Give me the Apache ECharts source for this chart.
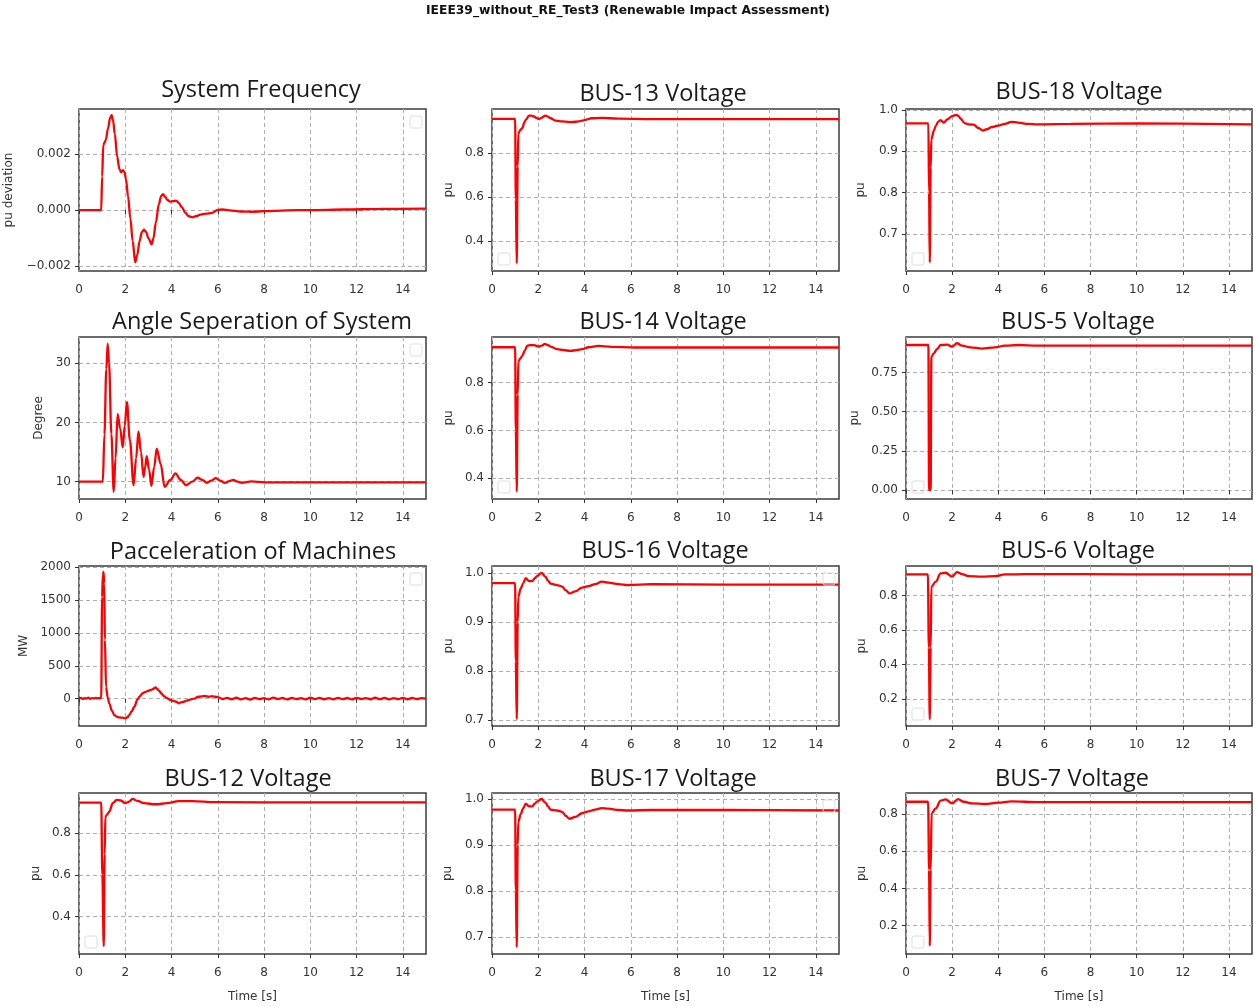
<!DOCTYPE html>
<html>
<head>
<meta charset="utf-8">
<script src="https://cdn.jsdelivr.net/npm/echarts@6/dist/echarts.min.js"></script>
<style>
html,body{margin:0;padding:0;background:#fff;}
#chart{width:1255px;height:1006px;}
</style>
</head>
<body>
<div id="chart"></div>
<script>
// ---------------- DATA ----------------
const mainTitle = 'IEEE39_without_RE_Test3 (Renewable Impact Assessment)';
const xTicks = [0, 2, 4, 6, 8, 10, 12, 14];

// System Frequency (pu deviation)
const freqT = [0, 0.96, 1.0, 1.05, 1.1, 1.16, 1.25, 1.35, 1.41, 1.47, 1.55, 1.65, 1.75, 1.82, 1.9, 1.97, 2.03, 2.12, 2.22, 2.32, 2.43, 2.52, 2.62, 2.72, 2.81, 2.9, 3.0, 3.14, 3.22, 3.32, 3.45, 3.55, 3.63, 3.72, 3.82, 3.95, 4.08, 4.2, 4.32, 4.45, 4.6, 4.75, 4.9, 5.05, 5.25, 5.5, 5.75, 6.0, 6.2, 6.5, 7.0, 7.5, 8.0, 9.0, 10, 11.5, 13, 15];
const freqV = [0, 0, 0.0012, 0.00232, 0.0024, 0.0025, 0.0029, 0.0033, 0.00338, 0.0032, 0.0027, 0.0019, 0.00145, 0.00135, 0.00142, 0.00135, 0.0011, 0.0005, -0.0003, -0.0011, -0.00186, -0.0016, -0.0011, -0.00078, -0.0007, -0.00078, -0.001, -0.00122, -0.001, -0.00045, 0.0002, 0.0005, 0.00057, 0.00048, 0.00036, 0.0003, 0.00032, 0.00034, 0.00025, 0.0001, -0.0001, -0.00022, -0.00026, -0.00022, -0.00016, -0.00013, -0.0001, 0.00001, 0.00002, -0.00001, -0.00005, -0.00006, -0.00004, -0.00001, 0, 0.00002, 0.00004, 0.00005];
const freqRange = [-0.00217, 0.0036];
const freqTicks = [-0.002, 0, 0.002];

// Angle Separation (Degree)
const angT = [0, 1.03, 1.1, 1.18, 1.24, 1.3, 1.4, 1.5, 1.58, 1.67, 1.78, 1.89, 1.98, 2.07, 2.2, 2.36, 2.47, 2.57, 2.68, 2.79, 2.86, 2.93, 3.03, 3.13, 3.25, 3.36, 3.53, 3.7, 3.95, 4.17, 4.4, 4.63, 4.9, 5.13, 5.33, 5.53, 5.72, 5.91, 6.1, 6.31, 6.5, 6.67, 6.85, 7.03, 7.46, 8.0, 10, 15];
const angV = [10, 10, 18, 29, 33.3, 30, 18, 8.3, 14, 21.4, 19, 15.8, 19.5, 23.5, 17, 9.4, 14, 18.5, 15, 10.8, 12.5, 14.3, 12, 9.3, 12.5, 15.6, 13, 9.15, 10.3, 11.4, 10.3, 9.4, 10.0, 10.7, 10.3, 9.8, 10.2, 10.6, 10.2, 9.8, 10.1, 10.3, 10.0, 9.8, 10.05, 9.9, 9.9, 9.9];
const angRange = [7.08, 34.44];
const angTicks = [10, 20, 30];

// Pacceleration of Machines (MW)
const paccT = [0, 0.08, 0.16, 0.24, 0.32, 0.4, 0.48, 0.56, 0.64, 0.72, 0.8, 0.88, 0.96, 1.0, 1.03, 1.06, 1.09, 1.12, 1.17, 1.24, 1.31, 1.42, 1.53, 1.64, 1.74, 1.87, 2.0, 2.1, 2.17, 2.28, 2.39, 2.53, 2.64, 2.74, 2.85, 2.96, 3.07, 3.17, 3.25, 3.31, 3.38, 3.46, 3.56, 3.67, 3.8, 3.96, 4.1, 4.2, 4.31, 4.4, 4.53, 4.64, 4.74, 4.88, 5.03, 5.1, 5.17, 5.3, 5.46, 5.6, 5.75, 5.89, 6.0, 6.1,
  6.2, 6.4, 6.6, 6.8, 7.0, 7.2, 7.4, 7.6, 7.8, 8.0, 8.2, 8.4, 8.6, 8.8, 9.0, 9.2, 9.4, 9.6, 9.8, 10.0, 10.2, 10.4, 10.6, 10.8, 11.0, 11.2, 11.4, 11.6, 11.8, 12.0, 12.2, 12.4, 12.6, 12.8, 13.0, 13.2, 13.4, 13.6, 13.8, 14.0, 14.2, 14.4, 14.6, 14.8, 15.0];
const paccV = [5, 12, -3, 10, 2, 15, 0, 8, 4, 12, 6, 10, 8, 1550, 1880, 1930, 1750, 900, 180, 20, -70, -180, -250, -275, -284, -288, -300, -280, -249, -190, -122, -10, 40, 81, 100, 117, 130, 142, 160, 173, 150, 122, 80, 41, 10, -20, -35, -46, -70, -55, -46, -30, -20, -5, 5, 25, 30, 35, 41, 30, 38, 30, 25, 10,
  -5, 12, -8, 15, -10, 8, -12, 14, -6, 10, -9, 16, -4, 11, -10, 13, -7, 9, -11, 15, -5, 12, -8, 10, -9, 14, -6, 11, -10, 13, -4, 9, -8, 15, -7, 12, -9, 10, -6, 14, -8, 11, -5, 9, 2];
const paccRange = [-415, 2020];
const paccTicks = [0, 500, 1000, 1500, 2000];

// BUS-13
const b13T = [0, 1.0, 1.03, 1.07, 1.11, 1.14, 1.22, 1.31, 1.4, 1.46, 1.6, 1.7, 1.81, 1.93, 2.03, 2.14, 2.31, 2.42, 2.53, 2.74, 2.95, 3.17, 3.39, 3.6, 3.74, 3.9, 4.03, 4.31, 4.74, 5.46, 6.89, 10, 15];
const b13V = [0.956, 0.956, 0.59, 0.3, 0.74, 0.89, 0.905, 0.914, 0.94, 0.952, 0.971, 0.971, 0.967, 0.96, 0.955, 0.961, 0.971, 0.966, 0.959, 0.948, 0.945, 0.944, 0.941, 0.943, 0.945, 0.948, 0.952, 0.959, 0.961, 0.957, 0.955, 0.955, 0.955];
const b13Range = [0.265, 1.001];
const b13Ticks = [0.4, 0.6, 0.8];

// BUS-18
const b18T = [0, 0.97, 1.0, 1.03, 1.07, 1.1, 1.21, 1.3, 1.39, 1.5, 1.64, 1.79, 2.0, 2.19, 2.28, 2.36, 2.54, 2.71, 2.93, 3.14, 3.33, 3.5, 3.71, 4.0, 4.29, 4.57, 4.86, 5.29, 5.71, 7.14, 10, 15];
const b18V = [0.967, 0.967, 0.8, 0.631, 0.86, 0.929, 0.95, 0.962, 0.971, 0.975, 0.969, 0.977, 0.985, 0.988, 0.985, 0.979, 0.968, 0.965, 0.964, 0.956, 0.95, 0.953, 0.958, 0.962, 0.966, 0.971, 0.969, 0.966, 0.965, 0.966, 0.967, 0.965];
const b18Range = [0.61, 1.002];
const b18Ticks = [0.7, 0.8, 0.9, 1.0];

// BUS-14
const b14T = [0, 1.0, 1.03, 1.07, 1.11, 1.14, 1.22, 1.31, 1.42, 1.53, 1.65, 1.81, 2.03, 2.15, 2.29, 2.4, 2.53, 2.81, 3.1, 3.39, 3.65, 3.89, 4.17, 4.6, 5.17, 6.17, 10, 15];
const b14V = [0.948, 0.948, 0.6, 0.344, 0.75, 0.888, 0.9, 0.912, 0.935, 0.955, 0.957, 0.957, 0.951, 0.955, 0.962, 0.958, 0.951, 0.94, 0.936, 0.933, 0.936, 0.94, 0.948, 0.954, 0.95, 0.947, 0.947, 0.947];
const b14Range = [0.313, 0.991];
const b14Ticks = [0.4, 0.6, 0.8];

// BUS-5
const b5T = [0, 0.97, 1.0, 1.07, 1.1, 1.21, 1.35, 1.5, 1.79, 2.0, 2.21, 2.43, 2.79, 3.29, 3.86, 4.29, 4.86, 5.71, 10, 15];
const b5V = [0.925, 0.925, 0.0, 0.0, 0.851, 0.872, 0.9, 0.925, 0.927, 0.914, 0.936, 0.921, 0.91, 0.902, 0.91, 0.921, 0.925, 0.921, 0.921, 0.921];
const b5Range = [-0.057, 0.976];
const b5Ticks = [0, 0.25, 0.5, 0.75];

// BUS-16
const b16T = [0, 1.0, 1.03, 1.07, 1.11, 1.14, 1.24, 1.35, 1.46, 1.6, 1.74, 1.85, 1.96, 2.14, 2.31, 2.42, 2.53, 2.81, 3.03, 3.2, 3.34, 3.6, 3.89, 4.17, 4.46, 4.74, 5.03, 5.46, 5.89, 6.89, 10, 15];
const b16V = [0.98, 0.98, 0.82, 0.702, 0.9, 0.952, 0.969, 0.98, 0.99, 0.984, 0.984, 0.99, 0.995, 1.001, 0.993, 0.985, 0.979, 0.976, 0.973, 0.965, 0.959, 0.963, 0.971, 0.974, 0.978, 0.983, 0.981, 0.978, 0.976, 0.978, 0.977, 0.977];
const b16Range = [0.688, 1.015];
const b16Ticks = [0.7, 0.8, 0.9, 1.0];

// BUS-6
const b6T = [0, 0.95, 0.99, 1.03, 1.07, 1.1, 1.29, 1.5, 1.71, 2.0, 2.21, 2.43, 2.71, 3.29, 3.86, 4.29, 5.14, 10, 15];
const b6V = [0.923, 0.923, 0.5, 0.084, 0.5, 0.852, 0.881, 0.929, 0.933, 0.91, 0.937, 0.925, 0.913, 0.91, 0.913, 0.923, 0.925, 0.924, 0.924];
const b6Range = [0.045, 0.972];
const b6Ticks = [0.2, 0.4, 0.6, 0.8];

// BUS-12
const b12T = [0, 0.96, 1.01, 1.07, 1.11, 1.14, 1.22, 1.31, 1.46, 1.63, 1.81, 2.0, 2.17, 2.31, 2.53, 2.81, 3.31, 3.81, 4.31, 4.89, 5.89, 10, 15];
const b12V = [0.947, 0.947, 0.6, 0.259, 0.7, 0.88, 0.89, 0.904, 0.944, 0.96, 0.957, 0.944, 0.952, 0.965, 0.955, 0.944, 0.939, 0.944, 0.954, 0.954, 0.949, 0.948, 0.948];
const b12Range = [0.221, 0.993];
const b12Ticks = [0.4, 0.6, 0.8];

// BUS-17
const b17T = [0, 1.0, 1.03, 1.07, 1.11, 1.14, 1.24, 1.35, 1.46, 1.6, 1.74, 1.85, 1.96, 2.14, 2.31, 2.42, 2.53, 2.81, 3.03, 3.2, 3.34, 3.6, 3.89, 4.17, 4.46, 4.74, 5.03, 5.46, 5.89, 6.89, 10, 15];
const b17V = [0.977, 0.977, 0.8, 0.678, 0.9, 0.95, 0.967, 0.98, 0.99, 0.984, 0.984, 0.99, 0.995, 1.0, 0.992, 0.984, 0.977, 0.975, 0.972, 0.963, 0.957, 0.961, 0.969, 0.973, 0.977, 0.98, 0.979, 0.976, 0.975, 0.976, 0.976, 0.975];
const b17Range = [0.663, 1.013];
const b17Ticks = [0.7, 0.8, 0.9, 1.0];

// BUS-7
const b7T = [0, 0.96, 1.0, 1.03, 1.07, 1.11, 1.29, 1.5, 1.71, 2.0, 2.26, 2.5, 2.86, 3.43, 4.0, 4.57, 5.71, 10, 15];
const b7V = [0.866, 0.866, 0.5, 0.092, 0.5, 0.804, 0.83, 0.872, 0.879, 0.857, 0.88, 0.866, 0.857, 0.854, 0.861, 0.868, 0.864, 0.864, 0.864];
const b7Range = [0.048, 0.913];
const b7Ticks = [0.2, 0.4, 0.6, 0.8];

// ---------------- LAYOUT ----------------
const colLeft = [79, 492, 906];
const colWidth = [347, 347, 346];
const rowTop = [109, 337, 566, 793];
const rowHeight = [162, 162, 160, 161];

const panels = [
  {title: 'System Frequency', t: freqT, v: freqV, range: freqRange, ticks: freqTicks, dec: 3, yname: 'pu deviation', gap: 64, r: 0, c: 0, tx: 261, ty: 90, leg: 'tr'},
  {title: 'BUS-13 Voltage', t: b13T, v: b13V, range: b13Range, ticks: b13Ticks, dec: 1, yname: 'pu', gap: 37, r: 0, c: 1, tx: 663, ty: 94, leg: 'bl'},
  {title: 'BUS-18 Voltage', t: b18T, v: b18V, range: b18Range, ticks: b18Ticks, dec: 1, yname: 'pu', gap: 39, r: 0, c: 2, tx: 1079, ty: 92, leg: 'bl'},
  {title: 'Angle Seperation of System', t: angT, v: angV, range: angRange, ticks: angTicks, dec: 0, yname: 'Degree', gap: 34, r: 1, c: 0, tx: 262, ty: 322, leg: 'tr'},
  {title: 'BUS-14 Voltage', t: b14T, v: b14V, range: b14Range, ticks: b14Ticks, dec: 1, yname: 'pu', gap: 37, r: 1, c: 1, tx: 663, ty: 322, leg: 'bl'},
  {title: 'BUS-5 Voltage', t: b5T, v: b5V, range: b5Range, ticks: b5Ticks, dec: 2, yname: 'pu', gap: 45, r: 1, c: 2, tx: 1078, ty: 322, leg: 'bl'},
  {title: 'Pacceleration of Machines', t: paccT, v: paccV, range: paccRange, ticks: paccTicks, dec: 0, yname: 'MW', gap: 49, r: 2, c: 0, tx: 253, ty: 552, leg: 'tr'},
  {title: 'BUS-16 Voltage', t: b16T, v: b16V, range: b16Range, ticks: b16Ticks, dec: 1, yname: 'pu', gap: 37, r: 2, c: 1, tx: 665, ty: 551, leg: 'tr'},
  {title: 'BUS-6 Voltage', t: b6T, v: b6V, range: b6Range, ticks: b6Ticks, dec: 1, yname: 'pu', gap: 38, r: 2, c: 2, tx: 1078, ty: 551, leg: 'bl'},
  {title: 'BUS-12 Voltage', t: b12T, v: b12V, range: b12Range, ticks: b12Ticks, dec: 1, yname: 'pu', gap: 37, r: 3, c: 0, tx: 248, ty: 779, leg: 'bl'},
  {title: 'BUS-17 Voltage', t: b17T, v: b17V, range: b17Range, ticks: b17Ticks, dec: 1, yname: 'pu', gap: 38, r: 3, c: 1, tx: 673, ty: 779, leg: 'tr'},
  {title: 'BUS-7 Voltage', t: b7T, v: b7V, range: b7Range, ticks: b7Ticks, dec: 1, yname: 'pu', gap: 38, r: 3, c: 2, tx: 1072, ty: 779, leg: 'bl'}
];

const TICK_FONT = 'DejaVu Sans';
const TITLE_FONT = 'Open Sans';
const fmt = dec => v => {
  const s = Math.abs(v).toFixed(dec);
  return (v < 0 ? '\u2212' : '') + s;
};

const grids = [], xAxes = [], yAxes = [], series = [], graphics = [];

graphics.push({
  type: 'text', x: 628, y: 11,
  style: {text: mainTitle, font: 'bold 12.3px "DejaVu Sans"', fill: '#111', textAlign: 'center', textVerticalAlign: 'middle'}
});

panels.forEach((p, i) => {
  const left = colLeft[p.c], top = rowTop[p.r], w = colWidth[p.c], h = rowHeight[p.r];
  grids.push({left: left, top: top, width: w, height: h, show: true, borderColor: '#3c3c3c', borderWidth: 1.5, backgroundColor: 'transparent'});
  xAxes.push({
    type: 'value', gridIndex: i, min: 0, max: 15,
    name: p.r === 3 ? 'Time [s]' : '', nameLocation: 'middle', nameGap: 37,
    nameTextStyle: {fontFamily: TICK_FONT, fontSize: 12, color: '#333'},
    axisLine: {show: false},
    axisTick: {show: true, length: 4, customValues: xTicks, lineStyle: {color: '#333'}},
    axisLabel: {customValues: xTicks, margin: 13, fontFamily: TICK_FONT, fontSize: 12, color: '#333', formatter: v => String(v)},
    splitLine: {show: true, lineStyle: {type: [4, 3], color: '#b0b0b0', width: 1}}
  });
  yAxes.push({
    type: 'value', gridIndex: i, min: p.range[0], max: p.range[1], scale: true,
    name: p.yname, nameLocation: 'middle', nameGap: p.gap,
    nameTextStyle: {fontFamily: TICK_FONT, fontSize: 12, color: '#333'},
    axisLine: {show: false},
    axisTick: {show: true, length: 4, customValues: p.ticks, lineStyle: {color: '#333'}},
    axisLabel: {customValues: p.ticks, margin: 8, fontFamily: TICK_FONT, fontSize: 12, color: '#333', formatter: fmt(p.dec)},
    splitLine: {show: true, lineStyle: {type: [4, 3], color: '#b0b0b0', width: 1}}
  });
  series.push({
    type: 'line', xAxisIndex: i, yAxisIndex: i,
    data: p.t.map((x, j) => [x, p.v[j]]),
    showSymbol: false, smooth: 0.35, smoothMonotone: 'x',
    lineStyle: {color: '#ff0000', width: 2.3},
    animation: false, z: 3
  });
  graphics.push({
    type: 'text', x: p.tx, y: p.ty,
    style: {text: p.title, font: '23.5px "' + TITLE_FONT + '"', fill: '#1a1a1a', textAlign: 'center', textVerticalAlign: 'middle'}
  });
  const cx = p.leg === 'tr' ? left + w - 10 : left + 12;
  const cy = p.leg === 'tr' ? top + 13 : top + h - 12;
  graphics.push({
    type: 'rect', shape: {x: cx - 6, y: cy - 6, width: 12, height: 12, r: 2},
    style: {fill: 'none', stroke: '#dedede', lineWidth: 1}, z: 10
  });
});

const chart = echarts.init(document.getElementById('chart'), null, {renderer: 'canvas'});
chart.setOption({
  animation: false,
  backgroundColor: '#fff',
  grid: grids, xAxis: xAxes, yAxis: yAxes, series: series,
  graphic: {elements: graphics}
});
</script>
</body>
</html>
